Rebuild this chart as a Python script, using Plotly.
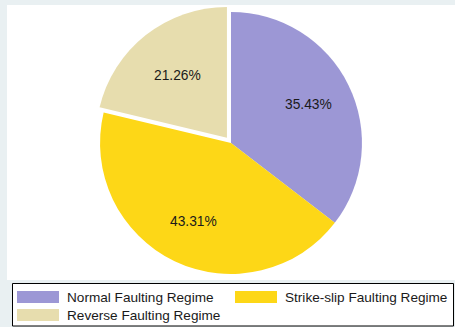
import math
import plotly.graph_objects as go

# Counts of focal mechanisms per faulting regime
regimes = ["Normal Faulting Regime", "Strike-slip Faulting Regime", "Reverse Faulting Regime"]
counts = [45, 55, 27]
colors = ["#9c97d5", "#fdd717", "#e7ddae"]
pulls = [0, 0, 0.05]

W, H = 455, 327
FONT = "Liberation Sans, Arial, sans-serif"

# pie domain in pixels (centre and radius follow from it)
dom_x = (93.5, 368.5)
dom_y = (5.5, 280.5)


def fx(px):
    return px / W


def fy(py):
    return 1 - py / H


fig = go.Figure()

fig.add_trace(go.Pie(
    labels=regimes,
    values=counts,
    sort=False,
    direction="clockwise",
    rotation=0,
    pull=pulls,
    marker=dict(colors=colors, line=dict(width=0)),
    textinfo="none",
    domain=dict(x=[fx(dom_x[0]), fx(dom_x[1])], y=[fy(dom_y[1]), fy(dom_y[0])]),
    showlegend=False,
    hoverinfo="label+percent",
))

# percentage labels placed along each slice's mid-angle
cx = (dom_x[0] + dom_x[1]) / 2
cy = (dom_y[0] + dom_y[1]) / 2
radius = (dom_y[1] - dom_y[0]) / 2 / (1 + max(pulls))
total = sum(counts)
annotations = []
start = 0.0
for v in counts:
    frac = v / total
    mid = (start + frac / 2) * 2 * math.pi
    start += frac
    r = 0.66 * radius
    px = cx + r * math.sin(mid)
    py = cy - r * math.cos(mid)
    annotations.append(dict(xref="paper", yref="paper", x=fx(px), y=fy(py),
                            xanchor="center", yanchor="middle", showarrow=False,
                            text=f"{frac:.2%}",
                            font=dict(family=FONT, size=13.8, color="#1a1a1a")))

shapes = [
    # white chart area inside the light frame
    dict(type="rect", xref="paper", yref="paper", layer="below",
         x0=fx(7), x1=fx(455), y0=fy(280), y1=fy(5),
         fillcolor="white", line=dict(width=0)),
    # legend box
    dict(type="rect", xref="paper", yref="paper", layer="below",
         x0=fx(12.5), x1=fx(453.5), y0=fy(326), y1=fy(283.5),
         fillcolor="white", line=dict(color="black", width=1)),
]

# legend entries: (swatch left, row centre)
slots = [(17, 297), (235, 297), (17, 315)]
for (sx, sy), name, col in zip(slots, regimes, colors):
    shapes.append(dict(type="rect", xref="paper", yref="paper",
                       x0=fx(sx), x1=fx(sx + 42), y0=fy(sy + 6), y1=fy(sy - 6),
                       fillcolor=col, line=dict(width=0)))
    annotations.append(dict(xref="paper", yref="paper", x=fx(sx + 48), y=fy(sy),
                            xanchor="left", yanchor="middle", showarrow=False,
                            text=name,
                            font=dict(family=FONT, size=13.6, color="#1a1a1a")))

fig.update_layout(
    width=W, height=H,
    margin=dict(l=0, r=0, t=0, b=0),
    paper_bgcolor="#e9f0f2",
    plot_bgcolor="#e9f0f2",
    shapes=shapes,
    annotations=annotations,
)

fig.write_html("out.html")
